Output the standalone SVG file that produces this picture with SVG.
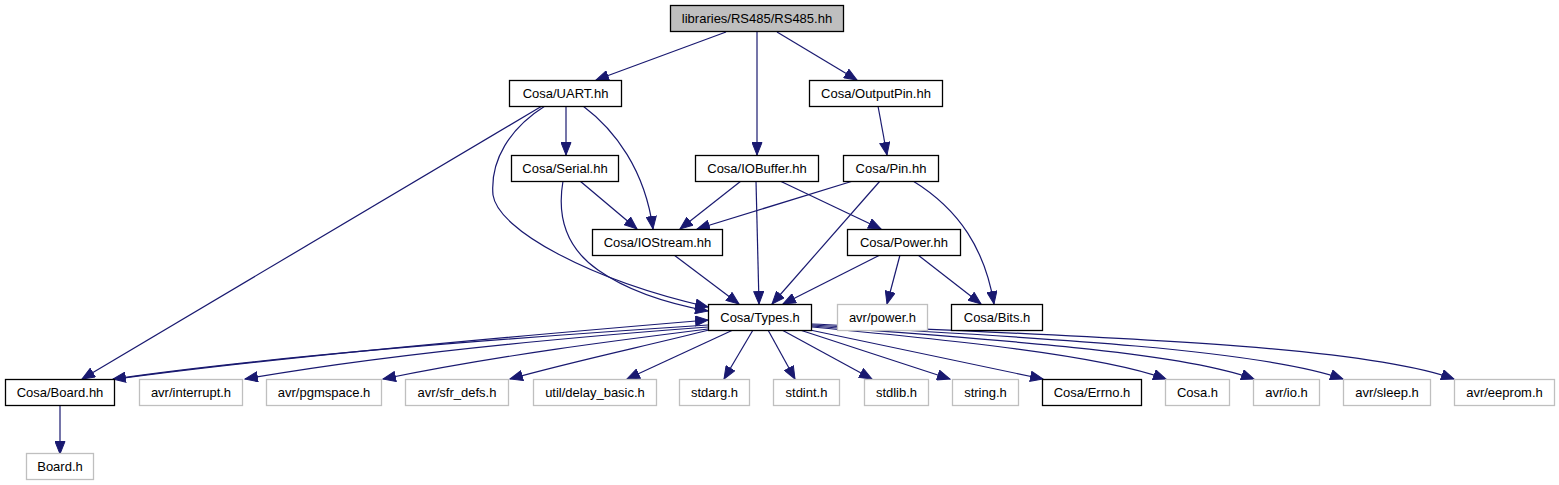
<svg xmlns="http://www.w3.org/2000/svg" width="1559" height="485" viewBox="0 0 1559 485">
<style>
.n rect{fill:#ffffff;stroke:#000000;stroke-width:1.3}
.g rect{fill:#ffffff;stroke:#bfbfbf;stroke-width:1.3}
.r rect{fill:#bfbfbf;stroke:#000000;stroke-width:1.3}
text{font-family:"Liberation Sans",Arial,sans-serif;font-size:13px;fill:#000000;text-anchor:middle}
#edges path{fill:none;stroke:#191970;stroke-width:1.2;marker-end:url(#a)}
</style>
<defs>
<marker id="a" markerUnits="userSpaceOnUse" markerWidth="15" markerHeight="11" refX="13" refY="5.5" orient="auto">
<path d="M0.5,0.5 L13,5.5 L0.5,10.5 z" fill="#191970" stroke="#191970" stroke-width="1"/>
</marker>
</defs>
<rect width="1559" height="485" fill="#ffffff"/>
<g id="edges">
<path d="M726,32 L596,80"/>
<path d="M757,32 L757,155"/>
<path d="M777,32 L857,80"/>
<path d="M566,106 L566,155"/>
<path d="M878,106 L887,155"/>
<path d="M542,106 L82,379"/>
<path d="M545,106 C510,128 490,160 493,195 C498,230 590,280 708,307"/>
<path d="M563,181 C558,210 562,245 598,270 C625,289 665,303 708,311"/>
<path d="M583,106 C615,130 645,170 653,229"/>
<path d="M580,181 L637,229"/>
<path d="M741,181 L680,229"/>
<path d="M756,181 L759,304"/>
<path d="M780,181 L881,229"/>
<path d="M853,181 L697,229"/>
<path d="M880,181 L772,304"/>
<path d="M913,181 C960,210 985,250 994,304"/>
<path d="M674,255 L739,304"/>
<path d="M880,255 L783,304"/>
<path d="M900,255 L887,304"/>
<path d="M918,255 L981,304"/>
<path d="M708,325 C600,332 300,352 113,379"/>
<path d="M117,379 C300,354 600,329 708,320"/>
<path d="M708,327 C600,335 400,352 245,379"/>
<path d="M708,329 C620,340 500,355 383,379"/>
<path d="M709,330 C650,345 570,362 510,379"/>
<path d="M733,330 L627,379"/>
<path d="M753,330 L724,379"/>
<path d="M768,330 L795,379"/>
<path d="M782,330 L872,379"/>
<path d="M800,330 L950,379"/>
<path d="M810,330 L1043,379"/>
<path d="M812,327 C950,340 1100,355 1166,379"/>
<path d="M812,326 C1000,340 1180,352 1254,379"/>
<path d="M812,325 C1050,338 1260,350 1343,379"/>
<path d="M812,324 C1100,337 1360,345 1454,379"/>
<path d="M60,405 L60,454"/>
</g>
<g id="root" class="r"><rect x="670.5" y="5.5" width="173" height="26"/><text x="757" y="22.5">libraries/RS485/RS485.hh</text></g>
<g id="uart" class="n"><rect x="509.5" y="80.5" width="112" height="26"/><text x="565.5" y="97.5">Cosa/UART.hh</text></g>
<g id="outputpin" class="n"><rect x="809.5" y="80.5" width="133" height="26"/><text x="876" y="97.5">Cosa/OutputPin.hh</text></g>
<g id="serial" class="n"><rect x="511.5" y="155.5" width="107" height="26"/><text x="565" y="172.5">Cosa/Serial.hh</text></g>
<g id="iobuffer" class="n"><rect x="695.5" y="155.5" width="123" height="26"/><text x="757" y="172.5">Cosa/IOBuffer.hh</text></g>
<g id="pin" class="n"><rect x="843.5" y="155.5" width="95" height="26"/><text x="891" y="172.5">Cosa/Pin.hh</text></g>
<g id="iostream" class="n"><rect x="592.5" y="229.5" width="130" height="26"/><text x="657.5" y="246.5">Cosa/IOStream.hh</text></g>
<g id="power" class="n"><rect x="847.5" y="229.5" width="113" height="26"/><text x="904" y="246.5">Cosa/Power.hh</text></g>
<g id="types" class="n"><rect x="708.5" y="304.5" width="103" height="26"/><text x="760" y="321.5">Cosa/Types.h</text></g>
<g id="avrpower" class="g"><rect x="837.5" y="304.5" width="90" height="26"/><text x="882.5" y="321.5">avr/power.h</text></g>
<g id="bits" class="n"><rect x="951.5" y="304.5" width="91" height="26"/><text x="997" y="321.5">Cosa/Bits.h</text></g>
<g id="boardhh" class="n"><rect x="5.5" y="379.5" width="109" height="26"/><text x="60" y="396.5">Cosa/Board.hh</text></g>
<g id="interrupt" class="g"><rect x="139.5" y="379.5" width="103" height="26"/><text x="191" y="396.5">avr/interrupt.h</text></g>
<g id="pgmspace" class="g"><rect x="266.5" y="379.5" width="115" height="26"/><text x="324" y="396.5">avr/pgmspace.h</text></g>
<g id="sfrdefs" class="g"><rect x="405.5" y="379.5" width="103" height="26"/><text x="457" y="396.5">avr/sfr_defs.h</text></g>
<g id="delaybasic" class="g"><rect x="533.5" y="379.5" width="123" height="26"/><text x="595" y="396.5">util/delay_basic.h</text></g>
<g id="stdarg" class="g"><rect x="679.5" y="379.5" width="70" height="26"/><text x="714.5" y="396.5">stdarg.h</text></g>
<g id="stdint" class="g"><rect x="773.5" y="379.5" width="66" height="26"/><text x="806.5" y="396.5">stdint.h</text></g>
<g id="stdlib" class="g"><rect x="864.5" y="379.5" width="64" height="26"/><text x="896.5" y="396.5">stdlib.h</text></g>
<g id="string" class="g"><rect x="952.5" y="379.5" width="66" height="26"/><text x="985.5" y="396.5">string.h</text></g>
<g id="errno" class="n"><rect x="1042.5" y="379.5" width="99" height="26"/><text x="1092" y="396.5">Cosa/Errno.h</text></g>
<g id="cosah" class="g"><rect x="1165.5" y="379.5" width="64" height="26"/><text x="1197.5" y="396.5">Cosa.h</text></g>
<g id="avrio" class="g"><rect x="1253.5" y="379.5" width="66" height="26"/><text x="1286.5" y="396.5">avr/io.h</text></g>
<g id="avrsleep" class="g"><rect x="1343.5" y="379.5" width="87" height="26"/><text x="1387" y="396.5">avr/sleep.h</text></g>
<g id="avreeprom" class="g"><rect x="1454.5" y="379.5" width="100" height="26"/><text x="1504.5" y="396.5">avr/eeprom.h</text></g>
<g id="boardh" class="g"><rect x="26.5" y="453.5" width="67" height="26"/><text x="60" y="470.5">Board.h</text></g>
</svg>
